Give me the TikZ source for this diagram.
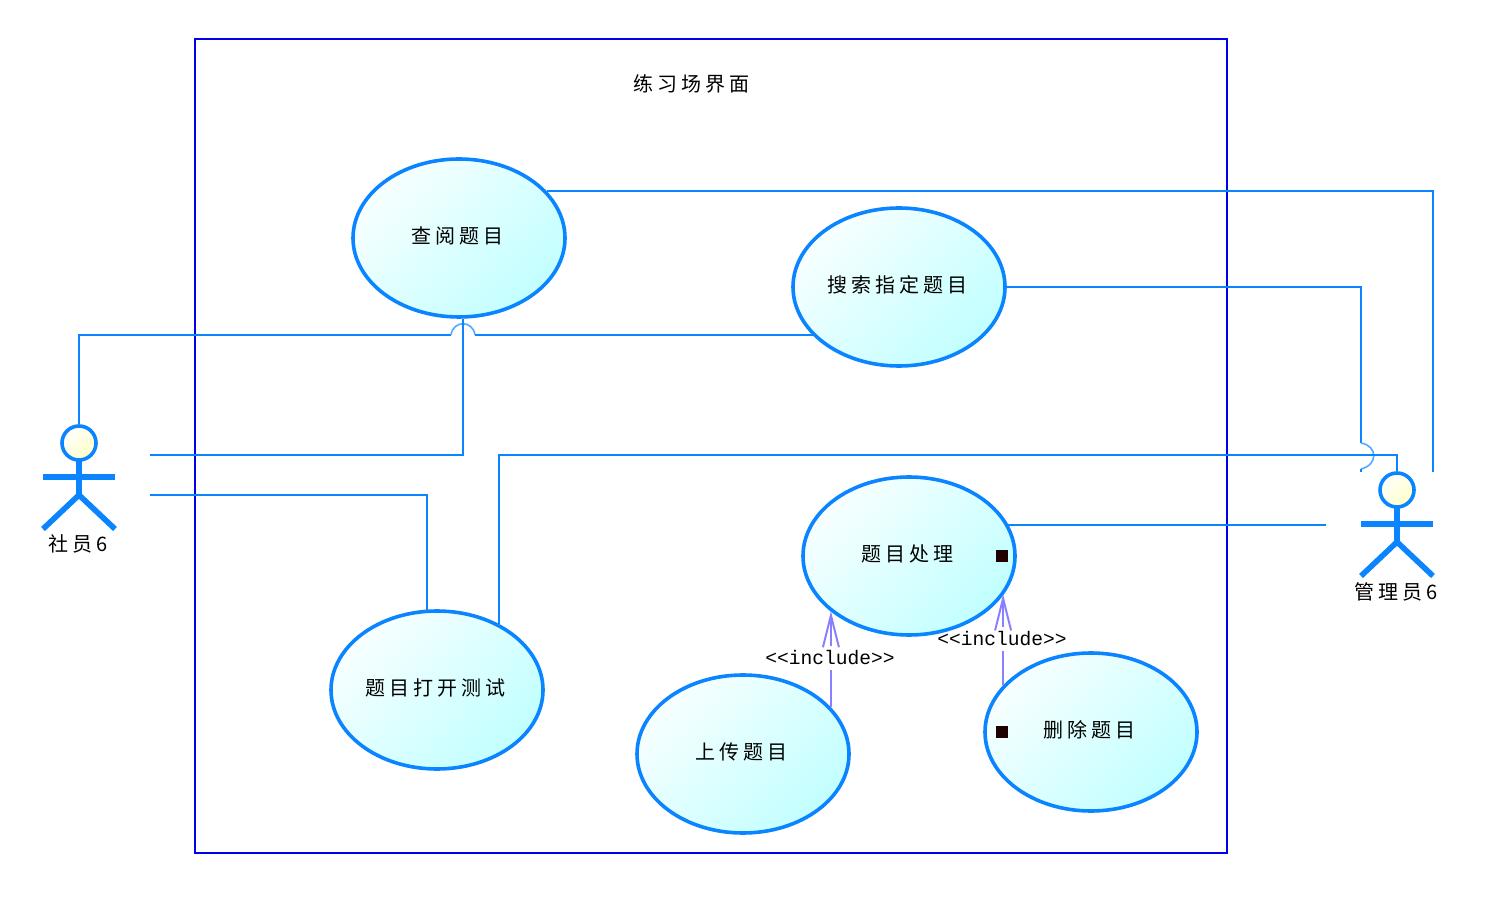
\documentclass[tikz,border=0pt]{standalone}
\usepackage{fontspec}
\newfontfamily\cjk[LetterSpace=20]{Noto Sans CJK SC}
\newfontfamily\monolabel{Liberation Mono}
\usetikzlibrary{shapes.geometric,arrows.meta}
\definecolor{wireblue}{HTML}{0A84FF}
\definecolor{framblue}{HTML}{0000F0}
\definecolor{inclviolet}{HTML}{8A80FF}
\definecolor{markdark}{HTML}{200000}
\tikzset{
  usecase/.style={ellipse,draw=wireblue,line width=1.8pt,minimum width=106pt,minimum height=79pt,
    inner sep=0pt,top color=cyan!3,bottom color=cyan!24,shading angle=45,
    text height=7.8pt,text depth=2.2pt,execute at end node={\hspace{2pt}},
    font=\cjk\fontsize{10}{12}\selectfont},
  wire/.style={draw=wireblue,line width=1pt},
  hop/.style={draw=wireblue!70,line width=.8pt},
  limb/.style={draw=wireblue,line width=2.8pt},
  include/.style={draw=inclviolet,line width=1pt,-{Straight Barb[length=16pt,width=8pt]}},
  includeline/.style={draw=inclviolet,line width=1pt},
  includelabel/.style={inner xsep=0pt,inner ysep=0pt,minimum height=11.5pt,
    font=\monolabel\fontsize{9.8}{11}\selectfont},
  marker/.style={fill=markdark,minimum size=6pt,inner sep=0pt},
  actorlabel/.style={inner sep=0pt,font=\cjk\fontsize{10}{12}\selectfont},
  actorman/.pic={
    \draw[limb] (-36,34) -- (36,34);
    \draw[limb] (0,18) -- (0,52);
    \draw[limb] (-36,86) -- (0,52) -- (36,86);
    \node[circle,draw=wireblue,line width=1.8pt,minimum size=17pt,inner sep=0pt,
      top color=white,bottom color=yellow!22,shading angle=45] (-head) at (0,0) {};
  }
}

\begin{document}
\begin{tikzpicture}[x=.5pt,y=-.5pt]
  \useasboundingbox (0,0) rectangle (1493,897);
  % System frame
  \draw[draw=framblue,line width=1pt] (195,39) rectangle (1227,853);
  \node[actorlabel] (title) at (691,84) {练习场界面};

  % Use cases
  \node[usecase] (browse) at (459,238) {查阅题目};
  \node[usecase] (search) at (899,287) {搜索指定题目};
  \node[usecase] (handle) at (909,556) {题目处理};
  \node[usecase] (opentest) at (437,690) {题目打开测试};
  \node[usecase] (upload) at (743,754) {上传题目};
  \node[usecase] (remove) at (1091,732) {删除题目};
  \node[marker] (handlemark) at (1002,556) {};
  \node[marker] (removemark) at (1002,732) {};

  % Actors
  \pic (member) at (79,443) {actorman};
  \pic (admin) at (1397,490) {actorman};
  \node[actorlabel] (memberlabel) at (78,544) {社员6};
  \node[actorlabel] (adminlabel) at (1396,592) {管理员6};

  % Free ends and hops
  \coordinate (memberhigh) at (150,455);
  \coordinate (memberlow) at (150,495);
  \coordinate (adminleft) at (1326,525);
  \coordinate (adminright) at (1433,472);
  \coordinate (adminbend) at (1397,455);
  \coordinate (hopupleft) at (451,335);
  \coordinate (hopupright) at (475,335);
  \coordinate (hopdowntop) at (1361,443);
  \coordinate (hopdownlow) at (1361,469);
  \coordinate (hopdownend) at (1361,472);

  % Member
  \draw[wire] (member-head.north) |- (hopupleft);
  \draw[hop] (hopupleft) .. controls (453,320) and (473,320) .. (hopupright);
  \draw[wire] (hopupright) -- (hopupright -| search.210);
  \draw[wire] (memberhigh) -| (browse.273);
  \draw[wire] (memberlow) -| (opentest.97);

  % Admin
  \draw[wire] (browse.28) -| (adminright);
  \draw[wire] (search.east) -| (hopdowntop);
  \draw[hop] (hopdowntop) .. controls (1378,446) and (1378,465) .. (hopdownlow);
  \draw[wire] (hopdownlow) -- (hopdownend);
  \draw[wire] (opentest.47) |- (adminbend) -- (admin-head.north);
  \draw[wire] (adminleft -| handle.18) -- (adminleft);

  % Include
  \node[includelabel] (uploadlabel) at (830,658) {<<include>>};
  \node[includelabel] (removelabel) at (1002,639) {<<include>>};
  \draw[includeline] (upload.28) -- (upload.28 |- uploadlabel.south);
  \draw[include] (upload.28 |- uploadlabel.north) -- (upload.28 |- handle.215);
  \draw[includeline] (remove.152) -- (remove.152 |- removelabel.south);
  \draw[include] (remove.152 |- removelabel.north) -- (remove.152 |- handle.338);
\end{tikzpicture}
\end{document}
